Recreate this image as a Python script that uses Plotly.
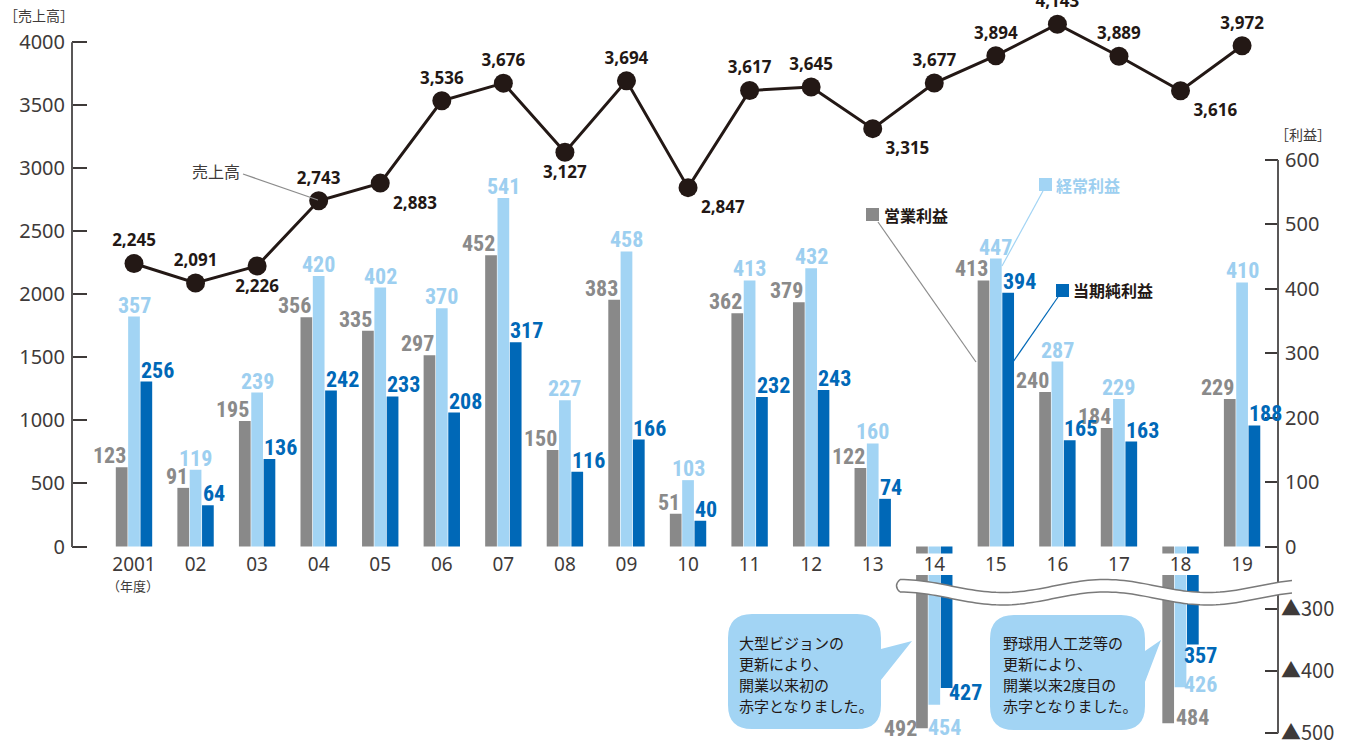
import math
import plotly.graph_objects as go

# ---------------- data ----------------
years = ["2001", "02", "03", "04", "05", "06", "07", "08", "09", "10",
         "11", "12", "13", "14", "15", "16", "17", "18", "19"]
sales = [2245, 2091, 2226, 2743, 2883, 3536, 3676, 3127, 3694, 2847,
         3617, 3645, 3315, 3677, 3894, 4143, 3889, 3616, 3972]
operating_profit = [123, 91, 195, 356, 335, 297, 452, 150, 383, 51,
                    362, 379, 122, -492, 413, 240, 184, -484, 229]
ordinary_profit = [357, 119, 239, 420, 402, 370, 541, 227, 458, 103,
                   413, 432, 160, -454, 447, 287, 229, -426, 410]
net_profit = [256, 64, 136, 242, 233, 208, 317, 116, 166, 40,
              232, 243, 74, -427, 394, 165, 163, -357, 188]

sales_ticks = [0, 500, 1000, 1500, 2000, 2500, 3000, 3500, 4000]
profit_ticks = [0, 100, 200, 300, 400, 500, 600]
loss_ticks = [-300, -400, -500]
loss_tick_text = ["▲300", "▲400", "▲500"]

series_names = ["営業利益", "経常利益", "当期純利益"]
note_14 = ["大型ビジョンの", "更新により、", "開業以来初の", "赤字となりました。"]
note_18 = ["野球用人工芝等の", "更新により、", "開業以来2度目の", "赤字となりました。"]

# ---------------- style / geometry ----------------
W, H = 1352, 744
ML, MR = 72, 74
GREY, LIGHT, DARK = "#898989", "#a2d4f4", "#0068b7"
GREY_T, LIGHT_T, DARK_T = "#8a8a8a", "#9dcff0", "#0068b7"
INK = "#3e3a39"
LINE_C = "#231815"
NUM_FONT = ("Roboto Condensed, Noto Sans Condensed, Open Sans Condensed, "
            "Liberation Sans Narrow, DejaVu Sans Condensed, sans-serif")
JP_FONT = "Noto Sans CJK JP, Noto Sans, sans-serif"
TICK_FONT = "Noto Sans, Open Sans, sans-serif"

Y0 = 546.5                     # pixel row of the zero line
K_S = (546.5 - 42.3) / 4000    # px per sales unit
K_P = (546.5 - 160.0) / 600    # px per profit unit
UB = 553.5                     # bottom pixel of upper panel
LT = 575.0                     # top pixel of lower (loss) panel
K_L = (733.3 - 609.0) / 200    # px per loss unit
P300 = 609.0                   # pixel of -300

CAT_W = 61.56
X0_PX = 134.0


def fx(px):
    return (px - ML) / (W - ML - MR)


def fy(py):
    return 1 - py / H


fig = go.Figure()

colors = [GREY, LIGHT, DARK]
values = [operating_profit, ordinary_profit, net_profit]

for name, vals, col in zip(series_names, values, colors):
    fig.add_trace(go.Bar(x=years, y=vals, name=name, marker_color=col,
                         marker_line_width=0, xaxis="x", yaxis="y",
                         showlegend=False, hoverinfo="skip"))
for name, vals, col in zip(series_names, values, colors):
    fig.add_trace(go.Bar(x=years, y=vals, name=name, marker_color=col,
                         marker_line_width=0, xaxis="x", yaxis="y3",
                         showlegend=False, hoverinfo="skip"))

text_pos = ["top center", "top center", "bottom center", "top center", "bottom right",
            "top center", "top center", "bottom center", "top center", "bottom right",
            "top center", "top center", "bottom right", "top center", "top center",
            "top center", "top center", "bottom right", "top center"]

fig.add_trace(go.Scatter(
    x=years, y=sales, xaxis="x", yaxis="y2", mode="lines+markers+text",
    line=dict(color=LINE_C, width=3), marker=dict(size=19, color=LINE_C),
    text=[f"{v:,}" for v in sales], textposition=text_pos,
    textfont=dict(family=TICK_FONT, size=17, color=LINE_C, weight="bold"),
    cliponaxis=False, showlegend=False, hoverinfo="skip"))

annotations = []
# bar value labels (x given as category index)
label_colors = [GREY_T, LIGHT_T, DARK_T]
label_anchor = [("right", -6), ("center", 0), ("left", 5)]
neg_offsets = {  # (series index, year) -> (dx from group centre, dy below bar end)
    (0, "14"): (-34, 0), (1, "14"): (10, 23), (2, "14"): (31, 4.5),
    (0, "18"): (12, -6), (1, "18"): (20, -3), (2, "18"): (20, 11.5),
}
for si, vals in enumerate(values):
    for i, (yr, v) in enumerate(zip(years, vals)):
        font = dict(family=NUM_FONT, size=22, color=label_colors[si], weight="bold")
        if v >= 0:
            anc, sh = label_anchor[si]
            annotations.append(dict(x=i, y=v, xref="x", yref="y", text=str(v),
                                    showarrow=False, xanchor=anc, xshift=sh,
                                    yanchor="bottom", yshift=-3, font=font))
        else:
            dx, dy = neg_offsets[(si, yr)]
            annotations.append(dict(x=i, y=v, xref="x", yref="y3", text=str(-v),
                                    showarrow=False, xanchor="center", xshift=dx,
                                    yanchor="middle", yshift=-dy, font=font))


def ptext(x, y, text, size, color, anchor="center", weight="normal"):
    return dict(x=fx(x), y=fy(y), xref="paper", yref="paper", text=text, showarrow=False,
                xanchor=anchor, yanchor="middle",
                font=dict(family=JP_FONT, size=size, color=color, weight=weight))


# axis titles and misc text
annotations += [
    ptext(39, 15, "［売上高］", 14, INK),
    ptext(1303, 134, "［利益］", 14, INK),
    ptext(133, 585, "（年度）", 13, INK),
    ptext(216, 171, "売上高", 16, INK),
    ptext(882, 215, "営業利益", 16, LINE_C, "left", "bold"),
    ptext(1054, 185, "経常利益", 16, LIGHT_T, "left", "bold"),
    ptext(1071, 290, "当期純利益", 16, LINE_C, "left", "bold"),
]
for lines, left in ((note_14, 737), (note_18, 1001)):
    for j, t in enumerate(lines):
        annotations.append(ptext(left, 642 + 21.3 * j, t, 15, LINE_C, "left"))

shapes = []


def line(x0, y0, x1, y1, color, width, layer="above"):
    return dict(type="line", xref="paper", yref="paper", x0=fx(x0), y0=fy(y0),
                x1=fx(x1), y1=fy(y1), line=dict(color=color, width=width), layer=layer)


def rect(x0, y0, x1, y1, color):
    return dict(type="rect", xref="paper", yref="paper", x0=fx(x0), y0=fy(y0),
                x1=fx(x1), y1=fy(y1), fillcolor=color, line=dict(width=0), layer="above")


def P(px, py):
    return f"{fx(px):.5f},{fy(py):.5f}"


# axis lines
shapes.append(line(ML, 42.3, ML, Y0 + 0.5, "#595757", 2))
shapes.append(line(W - MR, 160, W - MR, 733.3, "#595757", 2))

# legend squares and leader lines
shapes += [
    rect(866, 208, 879, 221, GREY), rect(1039, 178, 1052, 191, LIGHT), rect(1056, 284, 1069, 297, DARK),
    line(878, 222, 976, 362, "#8c8c8c", 1.2),
    line(1043, 191, 1002, 266, LIGHT, 1.2),
    line(1058, 297, 1013, 362, DARK, 1.2),
    line(243, 174, 318, 200, "#8c8c8c", 1.2),
]


# speech bubbles
def bubble(L, T, R, B, r, t1, tip, t2):
    d = (f"M{P(L + r, T)} L{P(R - r, T)} Q{P(R, T)} {P(R, T + r)} "
         f"L{P(R, t1)} L{P(*tip)} L{P(R, t2)} "
         f"L{P(R, B - r)} Q{P(R, B)} {P(R - r, B)} L{P(L + r, B)} "
         f"Q{P(L, B)} {P(L, B - r)} L{P(L, T + r)} Q{P(L, T)} {P(L + r, T)} Z")
    return dict(type="path", xref="paper", yref="paper", path=d, fillcolor=LIGHT,
                line=dict(width=0), layer="above")


shapes.append(bubble(728, 614, 881, 729, 24, 649, (912, 641), 680))
shapes.append(bubble(990, 615, 1145, 730, 24, 651, (1161, 640), 682))


# axis-break wave
def wave(x):
    return 586 - 6.5 * math.cos(2 * math.pi * (x - 900) / 205)


xs = [900 + 4 * i for i in range(99)]
up = [(x, wave(x)) for x in xs]
lo = [(x, wave(x) + 12.5) for x in xs]
band = "M" + " L".join(P(*p) for p in up) + " L" + " L".join(P(*p) for p in reversed(lo))
band += f" Q{P(893, (up[0][1] + lo[0][1]) / 2)} {P(*up[0])} Z"
shapes.append(dict(type="path", xref="paper", yref="paper", path=band, fillcolor="white",
                   line=dict(width=0), layer="above"))
for pts in (up, lo):
    shapes.append(dict(type="path", xref="paper", yref="paper",
                       path="M" + " L".join(P(*p) for p in pts),
                       line=dict(color="#7a7a7a", width=1.5), layer="above"))
shapes.append(dict(type="path", xref="paper", yref="paper",
                   path=f"M{P(*up[0])} Q{P(893, (up[0][1] + lo[0][1]) / 2)} {P(*lo[0])}",
                   line=dict(color="#7a7a7a", width=1.5), layer="above"))

tickfont = dict(family=TICK_FONT, size=20, color=INK)

fig.update_layout(
    width=W, height=H, margin=dict(l=ML, r=MR, t=0, b=0),
    paper_bgcolor="white", plot_bgcolor="rgba(0,0,0,0)",
    barmode="group", bargap=1 - 37 / CAT_W, bargroupgap=0.05,
    showlegend=False, hovermode=False,
    xaxis=dict(type="category", anchor="y", range=[-(X0_PX - ML) / CAT_W, 18 + (W - MR - X0_PX - 18 * CAT_W) / CAT_W],
               showline=False, showgrid=False, zeroline=False, ticks="", automargin=False,
               tickfont=dict(family=TICK_FONT, size=19, color=INK), ticklabelstandoff=-3),
    yaxis=dict(domain=[fy(UB), 1], range=[-(UB - Y0) / K_P, Y0 / K_P], side="right", anchor="x",
               tickvals=profit_ticks, ticks="inside", ticklen=13, tickwidth=2, tickcolor=INK,
               showgrid=False, zeroline=False, showline=False, automargin=False,
               tickfont=tickfont, ticklabelstandoff=6),
    yaxis2=dict(overlaying="y", side="left", range=[-(UB - Y0) / K_S, Y0 / K_S],
                tickvals=sales_ticks, ticks="inside", ticklen=15, tickwidth=2, tickcolor=INK,
                showgrid=False, zeroline=False, showline=False, automargin=False,
                tickfont=tickfont, ticklabelstandoff=6),
    yaxis3=dict(domain=[0, fy(LT)], side="right", anchor="x",
                range=[-300 - (H - P300) / K_L, -300 + (P300 - LT) / K_L],
                tickvals=loss_ticks, ticktext=loss_tick_text, ticks="inside", ticklen=13,
                tickwidth=2, tickcolor=INK, showgrid=False, zeroline=False, showline=False,
                automargin=False, ticklabelstandoff=2, ticklabeloverflow="allow",
                tickfont=dict(family="Noto Sans CJK JP, Noto Sans, sans-serif", size=20, color=INK)),
    annotations=annotations, shapes=shapes,
)

fig.write_html("out.html", config={"displayModeBar": False})
